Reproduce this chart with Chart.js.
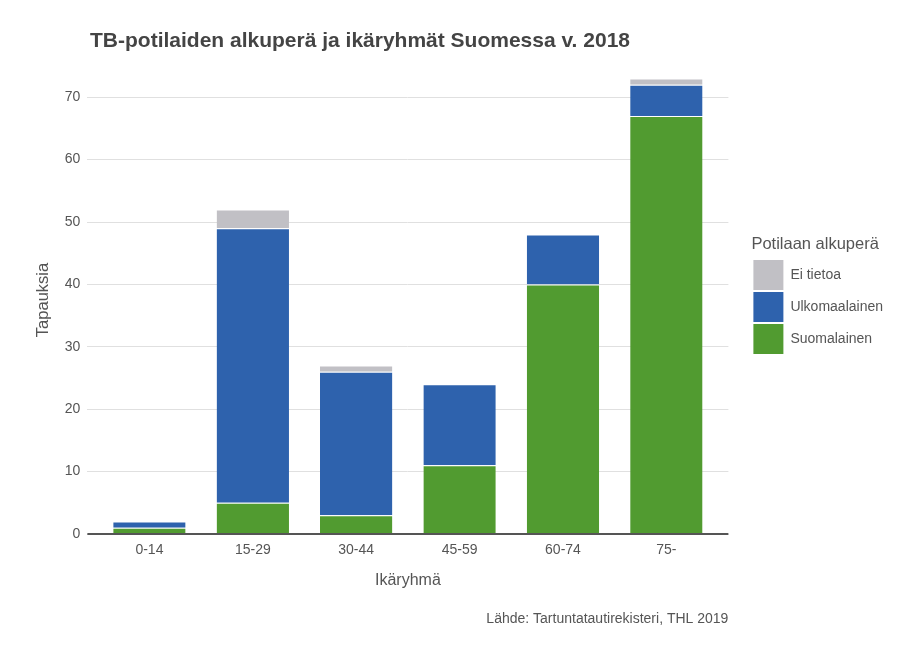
<!DOCTYPE html>
<html>
<head>
<meta charset="utf-8">
<script src="https://cdn.jsdelivr.net/npm/chart.js@4.4.1/dist/chart.umd.min.js"></script>
<style>
  html, body { margin: 0; padding: 0; background: #fff; }
  #wrap { width: 920px; height: 650px; }
</style>
</head>
<body>
<div id="wrap"><canvas id="myChart" width="920" height="650"></canvas></div>
<script>
// data
const ageGroups = ['0-14', '15-29', '30-44', '45-59', '60-74', '75-'];
const suomalainen = [1, 5, 3, 11, 40, 67];
const ulkomaalainen = [1, 44, 23, 13, 8, 5];
const eiTietoa = [0, 3, 1, 0, 0, 1];
const yTicks = [0, 10, 20, 30, 40, 50, 60, 70];

const chartTitle = 'TB-potilaiden alkuperä ja ikäryhmät Suomessa v. 2018';
const sourceText = 'Lähde: Tartuntatautirekisteri, THL 2019';

const FONT = "'Liberation Sans', Arial, sans-serif";

function toPoints(values) {
  return values.map((v, i) => ({ x: i + 1, y: v }));
}

const textPlugin = {
  id: 'texts',
  afterLayout(chart) {
    // put the legend a bit away from the plot, centred like the reference
    const lg = chart.legend;
    const area = chart.chartArea;
    const w = lg.width;
    const dy = 296 - (lg.top + lg.bottom) / 2;
    lg.left = area.right + 23;
    lg.right = lg.left + w;
    lg.top += dy;
    lg.bottom += dy;
  },
  afterDraw(chart) {
    const ctx = chart.ctx;
    const area = chart.chartArea;
    ctx.save();
    ctx.fillStyle = '#444444';
    ctx.font = 'bold 21px ' + FONT;
    ctx.textAlign = 'left';
    ctx.textBaseline = 'alphabetic';
    ctx.fillText(chartTitle, 90, 47);
    ctx.font = '14px ' + FONT;
    ctx.fillStyle = '#555555';
    ctx.textAlign = 'right';
    ctx.fillText(sourceText, area.right, 623);
    // bottom axis line
    ctx.strokeStyle = '#555555';
    ctx.lineWidth = 2;
    ctx.beginPath();
    ctx.moveTo(area.left, area.bottom);
    ctx.lineTo(area.right, area.bottom);
    ctx.stroke();
    ctx.restore();
  }
};

Chart.defaults.font.family = FONT;
Chart.defaults.color = '#555555';

new Chart(document.getElementById('myChart'), {
  type: 'bar',
  data: {
    datasets: [
      {
        label: 'Suomalainen',
        data: toPoints(suomalainen),
        backgroundColor: '#519b30',
        borderColor: '#ffffff',
        borderWidth: { top: 1, left: 0, right: 0, bottom: 0 },
        borderSkipped: false
      },
      {
        label: 'Ulkomaalainen',
        data: toPoints(ulkomaalainen),
        backgroundColor: '#2e62ad',
        borderColor: '#ffffff',
        borderWidth: { top: 1, left: 0, right: 0, bottom: 0 },
        borderSkipped: false
      },
      {
        label: 'Ei tietoa',
        data: toPoints(eiTietoa),
        backgroundColor: '#c1c0c5',
        borderColor: '#ffffff',
        borderWidth: { top: 1, left: 0, right: 0, bottom: 0 },
        borderSkipped: false
      }
    ]
  },
  options: {
    responsive: false,
    animation: false,
    barPercentage: 0.7,
    categoryPercentage: 1,
    layout: {
      padding: { top: 66, right: 50, bottom: 56, left: 30 }
    },
    plugins: {
      title: { display: false },
      tooltip: { enabled: false },
      legend: {
        position: 'right',
        reverse: true,
        title: {
          display: true,
          text: 'Potilaan alkuperä',
          position: 'start',
          color: '#555555',
          font: { size: 16.5 },
          padding: { top: 0, bottom: 2 }
        },
        labels: {
          boxWidth: 30,
          boxHeight: 30,
          padding: 2,
          color: '#555555',
          font: { size: 14 },
          generateLabels(chart) {
            const items = Chart.defaults.plugins.legend.labels.generateLabels(chart);
            items.forEach(it => { it.lineWidth = 0; it.strokeStyle = 'rgba(0,0,0,0)'; });
            return items;
          }
        }
      }
    },
    scales: {
      x: {
        type: 'linear',
        stacked: true,
        offset: false,
        min: 0.4,
        max: 6.6,
        afterBuildTicks(axis) {
          axis.ticks = ageGroups.map((_, i) => ({ value: i + 1 }));
        },
        ticks: {
          autoSkip: false,
          maxRotation: 0,
          font: { size: 14 },
          color: '#555555',
          padding: 8,
          callback: function (value) {
            return ageGroups[value - 1];
          }
        },
        grid: { display: false, drawTicks: false },
        border: { display: false },
        title: {
          display: true,
          text: 'Ikäryhmä',
          font: { size: 16 },
          color: '#555555',
          padding: { top: 4 }
        }
      },
      y: {
        stacked: true,
        min: 0,
        max: 75,
        afterBuildTicks(axis) {
          axis.ticks = yTicks.map(v => ({ value: v }));
        },
        ticks: {
          font: { size: 14 },
          color: '#555555',
          padding: 7
        },
        grid: {
          color: '#e0e0e0',
          drawTicks: false
        },
        border: { display: false },
        title: {
          display: true,
          text: 'Tapauksia',
          font: { size: 16.5 },
          color: '#555555',
          padding: { bottom: 4 }
        }
      }
    }
  },
  plugins: [textPlugin]
});
</script>
</body>
</html>
